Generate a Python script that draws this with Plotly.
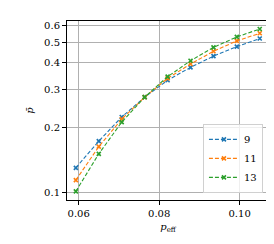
import plotly.graph_objects as go

p_eff = [0.0593, 0.0650, 0.0707, 0.0764, 0.0821, 0.0878, 0.0935, 0.0993, 0.1050]
labels = ["9", "11", "13"]
p9 = [0.130, 0.173, 0.224, 0.277, 0.332, 0.381, 0.430, 0.476, 0.519]
p11 = [0.114, 0.163, 0.219, 0.277, 0.339, 0.395, 0.453, 0.506, 0.549]
p13 = [0.101, 0.151, 0.212, 0.277, 0.345, 0.409, 0.472, 0.528, 0.575]
series = [p9, p11, p13]
colors = ["#1f77b4", "#ff7f0e", "#2ca02c"]

font_family = "DejaVu Serif"

fig = go.Figure()
for lab, ys, c in zip(labels, series, colors):
    fig.add_trace(go.Scatter(
        x=p_eff, y=ys, name=lab, mode="lines+markers",
        line=dict(color=c, width=1.1, dash="4px,2px"),
        marker=dict(symbol="x-thin", size=4, line=dict(color=c, width=1.6), color=c),
    ))

fig.update_layout(
    width=274, height=244,
    margin=dict(l=59, r=13, t=13, b=52),
    paper_bgcolor="white", plot_bgcolor="white",
    font=dict(family=font_family, size=10, color="black"),
    showlegend=True,
    legend=dict(
        x=0.97, y=0.04, xanchor="right", yanchor="bottom",
        bgcolor="rgba(255,255,255,0.8)", bordercolor="#d0d0d0", borderwidth=1,
        font=dict(family=font_family, size=10), itemwidth=30, tracegroupgap=0,
    ),
)
fig.update_xaxes(
    range=[0.0571, 0.1073],
    tickvals=[0.06, 0.08, 0.10], ticktext=["0.06", "0.08", "0.10"],
    tickfont=dict(family=font_family, size=10),
    showgrid=True, gridcolor="#b0b0b0", gridwidth=1,
    showline=True, linecolor="black", linewidth=1, mirror=True,
    ticks="outside", ticklen=4, tickcolor="black",
    zeroline=False,
    title=dict(text="<i>p</i><sub>eff</sub>", font=dict(family=font_family, size=10), standoff=4),
)
fig.update_yaxes(
    type="log", range=[-1.0358, -0.2032],
    tickvals=[0.1, 0.2, 0.3, 0.4, 0.5, 0.6], ticktext=["0.1", "0.2", "0.3", "0.4", "0.5", "0.6"],
    tickfont=dict(family=font_family, size=10),
    showgrid=True, gridcolor="#b0b0b0", gridwidth=1,
    showline=True, linecolor="black", linewidth=1, mirror=True,
    ticks="outside", ticklen=4, tickcolor="black",
    zeroline=False,
    title=dict(text="<i>p̄</i>", font=dict(family=font_family, size=10), standoff=8),
)

fig.write_html("out.html")
